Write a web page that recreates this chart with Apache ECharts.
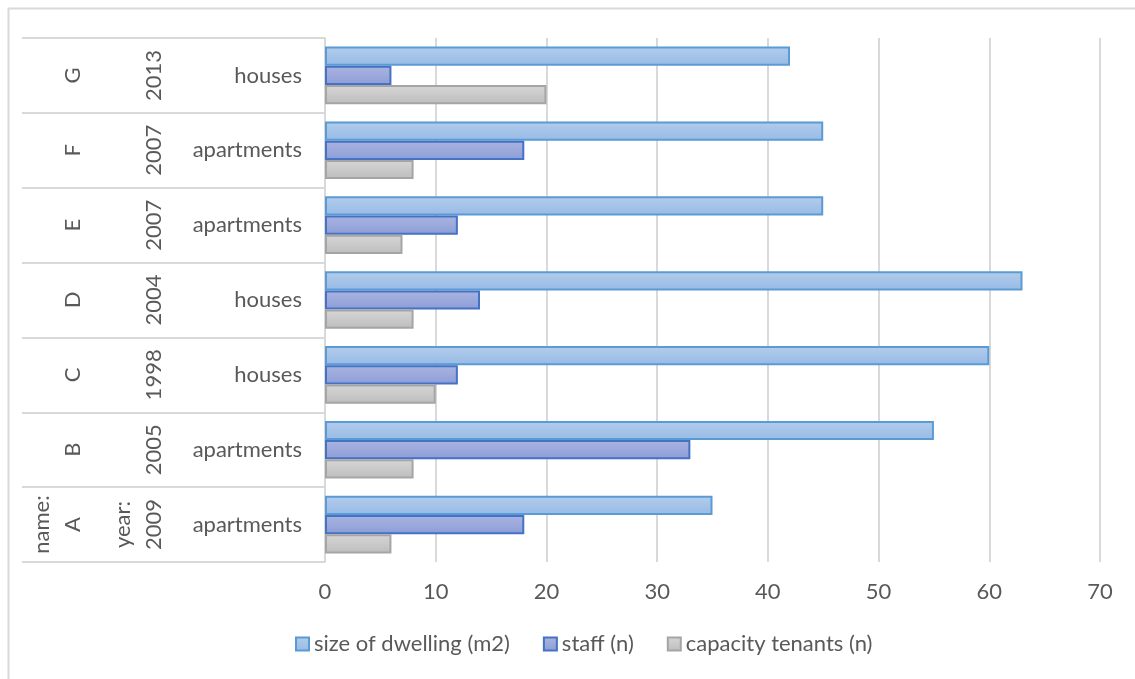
<!DOCTYPE html>
<html>
<head>
<meta charset="utf-8">
<script src="https://cdn.jsdelivr.net/npm/echarts@6/dist/echarts.min.js"></script>
<style>
  html, body { margin: 0; background: #fff; }
  #chart { width: 1135px; height: 679px; }
</style>
</head>
<body>
<div id="chart"></div>
<script>
// categories (bottom to top, like the excel sheet)
const names = ['A', 'B', 'C', 'D', 'E', 'F', 'G'];
const years = ['2009', '2005', '1998', '2004', '2007', '2007', '2013'];
const types = ['apartments', 'apartments', 'houses', 'houses', 'apartments', 'apartments', 'houses'];

// series values
const sizeOfDwelling = [35, 55, 60, 63, 45, 45, 42];
const staff = [18, 33, 12, 14, 12, 18, 6];
const capacityTenants = [6, 8, 10, 8, 7, 8, 20];

const seriesNames = ['size of dwelling (m2)', 'staff (n)', 'capacity tenants (n)'];

const FONT = 'Lato';
const TEXT = '#595959';
const LINE = '#d9d9d9';

// excel style vertical gradient fill
const grad = (top, bottom) => new echarts.graphic.LinearGradient(0, 0, 0, 1, [
    { offset: 0, color: top },
    { offset: 1, color: bottom }
]);

const chart = echarts.init(document.getElementById('chart'));

// the name / year columns of the multi level axis
const rotatedLabel = (margin, prefix) => ({
    interval: 0,
    rotate: 90,
    margin: margin,
    align: 'center',
    verticalAlign: 'bottom',
    lineHeight: 31,
    fontFamily: FONT,
    fontSize: 22,
    color: TEXT,
    formatter: (v, i) => (i === 0 ? prefix + '\n' + v : v)
});

const option = {
    animation: false,
    backgroundColor: '#fff',
    graphic: [{
        type: 'rect',
        shape: { x: 8.5, y: 8.5, width: 1400, height: 1000 },
        style: { fill: 'none', stroke: LINE, lineWidth: 2 },
        silent: true
    }],
    grid: { left: 325, right: 35, top: 38, bottom: 117, outerBoundsMode: 'none', containLabel: false },
    legend: {
        left: 290,
        top: 628,
        itemWidth: 13,
        itemHeight: 13,
        itemGap: 33,
        icon: 'rect',
        textStyle: { fontFamily: FONT, fontSize: 22, color: TEXT },
        data: seriesNames
    },
    xAxis: {
        type: 'value',
        min: 0,
        max: 70,
        interval: 10,
        axisLine: { show: false },
        axisTick: { show: false },
        axisLabel: { margin: 19, fontFamily: FONT, fontSize: 22, color: TEXT },
        splitLine: { show: true, lineStyle: { color: LINE, width: 2 } }
    },
    yAxis: [
        {
            type: 'category',
            position: 'left',
            data: types,
            axisLine: { show: true, onZero: false, lineStyle: { color: LINE, width: 2 } },
            axisTick: { show: true, length: 303, lineStyle: { color: LINE, width: 2 } },
            axisLabel: { interval: 0, margin: 23, fontFamily: FONT, fontSize: 22, color: TEXT }
        },
        {
            type: 'category',
            position: 'left',
            data: years,
            axisLine: { show: false },
            axisTick: { show: false },
            axisLabel: rotatedLabel(156, 'year:')
        },
        {
            type: 'category',
            position: 'left',
            data: names,
            axisLine: { show: false },
            axisTick: { show: false },
            axisLabel: rotatedLabel(237, 'name:')
        }
    ],
    series: [
        {
            name: seriesNames[0],
            type: 'bar',
            data: sizeOfDwelling,
            barGap: '0%',
            barCategoryGap: '23%',
            itemStyle: { color: grad('#b3cdec', '#97bae5'), borderColor: '#5b9bd5', borderWidth: 2 }
        },
        {
            name: seriesNames[1],
            type: 'bar',
            data: staff,
            itemStyle: { color: grad('#aab4e0', '#8c9dd7'), borderColor: '#4472c4', borderWidth: 2 }
        },
        {
            name: seriesNames[2],
            type: 'bar',
            data: capacityTenants,
            itemStyle: { color: grad('#d6d6d6', '#bdbdbd'), borderColor: '#a5a5a5', borderWidth: 2 }
        }
    ]
};

chart.setOption(option);
</script>
</body>
</html>
